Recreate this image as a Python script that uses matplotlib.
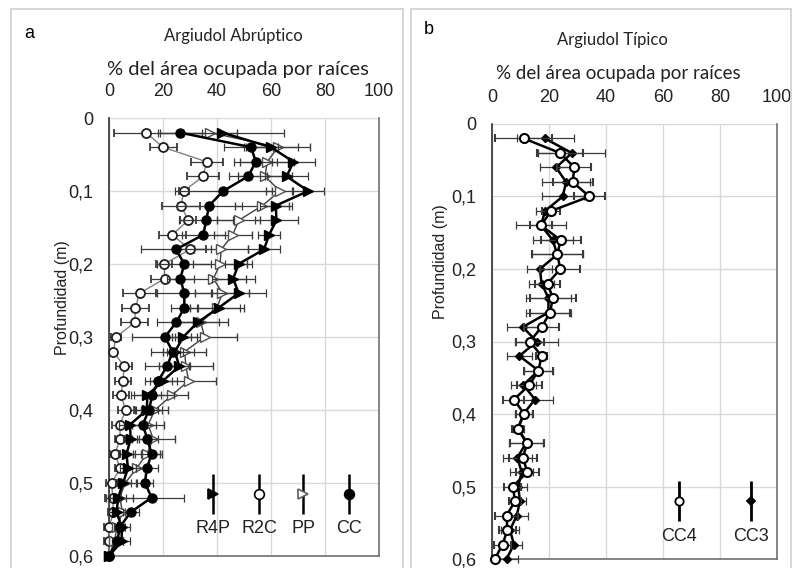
import numpy as np
import matplotlib
matplotlib.use("Agg")
import matplotlib.pyplot as plt
from matplotlib.patches import Rectangle
from matplotlib.ticker import FuncFormatter

# ---- data ----
depth = [0.02, 0.04, 0.06, 0.08, 0.10, 0.12, 0.14, 0.16, 0.18, 0.20,
         0.22, 0.24, 0.26, 0.28, 0.30, 0.32, 0.34, 0.36, 0.38, 0.40,
         0.42, 0.44, 0.46, 0.48, 0.50, 0.52, 0.54, 0.56, 0.58, 0.60]

# panel a - Argiudol Abruptico
r4p = [41.9, 60.0, 68.3, 65.8, 73.8, 61.8, 62.0, 59.3, 57.4, 48.0,
       46.0, 48.0, 40.6, 32.8, 27.5, 24.4, 26.0, 20.0, 14.2, 14.0,
       7.8, 8.0, 6.5, 7.0, 5.2, 3.4, 2.8, 4.7, 4.7, 0.0]
r4p_err = [23, 10, 8, 8, 6, 6, 8, 4, 6, 5, 8, 10, 8, 8, 3, 3, 4, 5, 5, 4,
           4, 3, 3, 3, 3, 3, 3, 3, 3, 0]
r2c = [13.7, 20.0, 36.2, 34.8, 27.8, 26.6, 29.4, 23.4, 30.0, 20.5,
       20.7, 11.3, 9.8, 9.6, 2.6, 1.6, 5.6, 5.2, 4.4, 6.2,
       4.1, 4.1, 2.2, 4.1, 1.0, 1.4, 1.6, 0.1, 0.1, 0.0]
r2c_err = [12, 5, 6, 6, 2, 7, 3, 5, 6, 3, 5, 6, 5, 5, 2, 1, 3, 3, 3, 3,
           3, 2, 2, 2, 2, 3, 2, 2, 2, 0]
pp = [37.4, 62.6, 58.6, 57.8, 63.3, 56.8, 48.1, 45.8, 41.6, 41.1,
      38.7, 42.0, 40.0, 34.0, 35.4, 28.0, 28.5, 29.5, 23.2, 17.0,
      14.5, 16.4, 14.0, 10.2, 6.0, 4.0, 5.0, 3.0, 2.0, 0.0]
pp_err = [10, 12, 10, 10, 5, 10, 8, 7, 10, 10, 12, 10, 10, 10, 12, 8, 10, 10, 6, 5,
          6, 8, 5, 4, 4, 5, 3, 2, 3, 0]
cc = [26.3, 52.6, 54.4, 51.5, 42.3, 37.1, 36.0, 34.9, 24.8, 27.9,
      26.4, 27.9, 27.9, 24.9, 20.7, 23.6, 21.5, 18.2, 16.0, 14.8,
      12.5, 14.2, 15.8, 14.0, 13.3, 15.8, 8.0, 4.1, 3.0, 0.0]
cc_err = [8, 10, 8, 7, 18, 12, 10, 8, 13, 10, 5, 10, 5, 7, 12, 8, 8, 5, 8, 5,
          5, 4, 4, 4, 3, 12, 3, 2, 2, 0]

# panel b - Argiudol Tipico
cc4 = [11.2, 23.9, 28.9, 28.3, 34.2, 20.7, 17.2, 24.1, 22.9, 24.0,
       19.5, 21.3, 20.4, 17.4, 13.3, 17.4, 16.3, 13.1, 7.7, 11.3,
       9.0, 12.4, 10.8, 12.4, 7.3, 8.1, 5.1, 5.4, 3.7, 1.0]
cc4_err = [10, 8, 6, 7, 5.5, 3, 4, 7, 9, 7, 4.5, 8, 7, 6, 5, 2, 5, 4.5, 3.7, 3,
           2, 6, 5, 4, 3, 2, 4, 3, 3, 1]
cc3 = [18.6, 28.0, 22.5, 26.0, 24.8, 18.6, 17.2, 21.3, 22.9, 16.8,
       17.4, 19.8, 19.8, 10.8, 15.7, 9.6, 16.3, 11.0, 15.1, 11.0,
       9.2, 12.0, 8.9, 10.4, 9.2, 9.8, 8.7, 6.3, 7.7, 5.1]
cc3_err = [10, 11.7, 5.8, 8.5, 7.4, 3, 8.8, 7, 9, 4.4, 4.5, 8, 8, 5.6, 7.6, 4.4, 5, 4.5, 6.2, 3,
           2, 6, 5, 4, 3, 2, 4, 3, 3, 4]

legend_a = ["R4P", "R2C", "PP", "CC"]
legend_b = ["CC4", "CC3"]
xticks = [0, 20, 40, 60, 80, 100]
yticks = [0, 0.1, 0.2, 0.3, 0.4, 0.5, 0.6]

W, H = 794, 568
narrow = ["Liberation Sans Narrow", "Liberation Sans", "DejaVu Sans"]
title_font = ["Lato", "DejaVu Sans"]
grid_col = "#d9d9d9"
err_col = "#3a3a3a"

fig = plt.figure(figsize=(W / 100, H / 100), dpi=100)


def px(x, y):
    return x / W, 1 - y / H


# panel frames
fig.patches.append(Rectangle(px(11, 575), 392 / W, 566 / H, transform=fig.transFigure,
                             fill=False, edgecolor="#d0d0d0", linewidth=1.2))
fig.patches.append(Rectangle(px(411, 575), 380 / W, 566 / H, transform=fig.transFigure,
                             fill=False, edgecolor="#d0d0d0", linewidth=1.2))

ax1 = fig.add_axes([109 / W, 1 - 556 / H, 270 / W, 438 / H])
ax2 = fig.add_axes([492 / W, 1 - 559 / H, 285 / W, 435 / H])

comma = FuncFormatter(lambda v, p: ("%g" % round(v, 2)).replace(".", ","))


def style_axes(ax):
    ax.set_xlim(0, 100)
    ax.set_ylim(0.6, 0)
    ax.set_xticks(xticks)
    ax.set_yticks(yticks)
    ax.yaxis.set_major_formatter(comma)
    ax.xaxis.tick_top()
    ax.tick_params(axis="x", length=0, pad=13, labelsize=13, labelcolor="#222222")
    ax.tick_params(axis="y", length=0, pad=11, labelsize=13, labelcolor="#222222")
    for lab in ax.get_xticklabels() + ax.get_yticklabels():
        lab.set_family(narrow)
    ax.grid(True, color=grid_col, linewidth=1.0)
    ax.set_axisbelow(True)
    ax.spines["top"].set_visible(False)
    ax.spines["left"].set_color("#303030")
    ax.spines["bottom"].set_color("#707070")
    ax.spines["right"].set_color("#707070")
    for s in ("left", "bottom", "right"):
        ax.spines[s].set_linewidth(1.2)


style_axes(ax1)
style_axes(ax2)

eb = dict(ecolor=err_col, elinewidth=0.9, capsize=3.2, capthick=0.9, clip_on=False)

# panel a series
ax1.errorbar(r2c, depth, xerr=r2c_err, color="#808080", lw=1.0, marker="o", ms=6.5,
             mfc="white", mec="#202020", mew=1.3, zorder=3, **eb)
ax1.errorbar(pp, depth, xerr=pp_err, color="#404040", lw=1.0, marker=">", ms=6.5,
             mfc="white", mec="#505050", mew=1.0, zorder=3, **eb)
ax1.errorbar(cc, depth, xerr=cc_err, color="black", lw=1.8, marker="o", ms=6.5,
             mfc="black", mec="black", zorder=4, **eb)
ax1.errorbar(r4p, depth, xerr=r4p_err, color="black", lw=1.8, marker=">", ms=6.5,
             mfc="black", mec="black", zorder=4, **eb)

# panel b series
ax2.errorbar(cc3, depth, xerr=cc3_err, color="black", lw=1.8, marker="D", ms=4.5,
             mfc="black", mec="black", zorder=4, **eb)
ax2.errorbar(cc4, depth, xerr=cc4_err, color="black", lw=1.8, marker="o", ms=6.5,
             mfc="white", mec="black", mew=1.5, zorder=5, **eb)

# in-plot legends (marker with vertical bar and label below)
leg_styles_a = [dict(marker=">", mfc="black", mec="black"),
                dict(marker="o", mfc="white", mec="black"),
                dict(marker=">", mfc="white", mec="#606060"),
                dict(marker="o", mfc="black", mec="black")]
leg_x_a = [38.5, 55.6, 72.0, 89.0]
for name, x, st in zip(legend_a, leg_x_a, leg_styles_a):
    ax1.errorbar([x], [0.515], yerr=[0.028], color="black", ecolor="black",
                 elinewidth=1.8, capsize=0, ms=7, mew=1.2, linestyle="none", **st)
    ax1.text(x, 0.562, name, ha="center", va="center", fontsize=13,
             family=narrow, color="#222222")

leg_styles_b = [dict(marker="o", mfc="white", mec="black", ms=6),
                dict(marker="D", mfc="black", mec="black", ms=4.5)]
leg_x_b = [65.6, 90.9]
for name, x, st in zip(legend_b, leg_x_b, leg_styles_b):
    ax2.errorbar([x], [0.52], yerr=[0.027], color="black", ecolor="black",
                 elinewidth=2.0, capsize=0, mew=1.3, linestyle="none", **st)
    ax2.text(x, 0.569, name, ha="center", va="center", fontsize=13,
             family=narrow, color="#222222")

# texts
fig.text(*px(29, 33), "a", fontsize=13, family=narrow, ha="center", va="center")
fig.text(*px(429, 30), "b", fontsize=13, family=narrow, ha="center", va="center")
fig.text(*px(233, 36), "Argiudol Abrúptico", fontsize=12, family=title_font,
         ha="center", va="center", color="#222222")
fig.text(*px(612, 40), "Argiudol Típico", fontsize=12, family=title_font,
         ha="center", va="center", color="#222222")
fig.text(*px(238, 69), "% del área ocupada por raíces", fontsize=14.5, family=title_font,
         ha="center", va="center", color="#222222")
fig.text(*px(618, 74), "% del área ocupada por raíces", fontsize=13.5, family=title_font,
         ha="center", va="center", color="#222222")
fig.text(*px(62, 298), "Profundidad (m)", fontsize=11.5, family=narrow, rotation=90,
         ha="center", va="center", color="#222222")
fig.text(*px(441, 262), "Profundidad (m)", fontsize=11.5, family=narrow, rotation=90,
         ha="center", va="center", color="#222222")

fig.savefig("out.png", dpi=100)
